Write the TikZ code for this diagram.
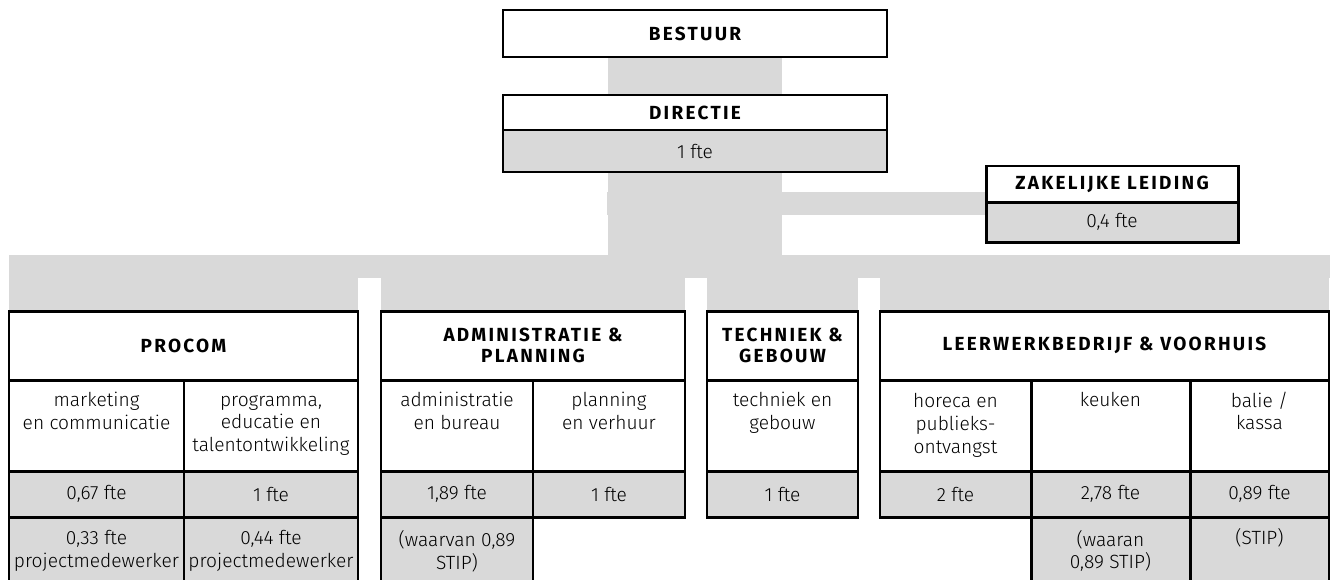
\documentclass[tikz,border=0pt]{standalone}
\usepackage{fontspec}
\usetikzlibrary{calc,backgrounds}
\setmainfont{Fira Sans}[UprightFont=* Light]
\newfontfamily\headfont[LetterSpace=12]{Fira Sans}
\definecolor{bandgrey}{HTML}{D9D9D9}

\begin{document}
\begin{tikzpicture}[x=0.02cm,y=-0.02cm,
    box/.style 2 args={draw,line width=1.7pt,inner sep=0pt,outer sep=0pt,anchor=north west,
      align=center,minimum width=#1*0.02cm,minimum height=#2*0.02cm,
      font=\fontsize{10.9}{12.9}\selectfont},
    hd/.style 2 args={box={#1}{#2},fill=white,font=\fontsize{10.8}{12}\headfont\bfseries},
    sub/.style={box={#1}{91},fill=white},
    fte/.style={box={#1}{46},fill=bandgrey},
    extra/.style={box={#1}{68},fill=bandgrey},
    link/.style={fill=bandgrey}]
  \useasboundingbox (0,0) rectangle (1330,579);
  \clip (0,0) rectangle (1330,579);

  \node[hd={384}{47}] (bestuur) at (503,10) {BESTUUR};
  \node[hd={384}{35}] (directie) at (503,95) {DIRECTIE};
  \node[fte=384,minimum height=42*0.02cm] (dirfte) at (503,130) {1 fte};
  \node[hd={252}{36}] (zakelijk) at (986,166) {ZAKELIJKE LEIDING};
  \node[fte=252,minimum height=40*0.02cm] (zakfte) at (986,202) {0,4 fte};

  \node[hd={349}{69}] (procom) at (9,311) {PROCOM};
  \node[hd={304}{69}] (adm) at (381,311) {ADMINISTRATIE \&\\PLANNING};
  \node[hd={151}{69}] (tech) at (707,311) {TECHNIEK \&\\GEBOUW};
  \node[hd={449}{69}] (leer) at (880,311) {LEERWERKBEDRIJF \& VOORHUIS};

  \node[sub=175] (marketing) at (9,380) {marketing\\en communicatie\\\strut};
  \node[sub=174] (programma) at (184,380) {programma,\\educatie en\\talentontwikkeling};
  \node[sub=152] (administratie) at (381,380) {administratie\\en bureau\\\strut};
  \node[sub=152] (planning) at (533,380) {planning\\en verhuur\\\strut};
  \node[sub=151] (techniek) at (707,380) {techniek en\\gebouw\\\strut};
  \node[sub=151] (horeca) at (880,380) {horeca en\\publieks-\\ontvangst};
  \node[sub=159] (keuken) at (1031,380) {keuken\\\strut\\\strut};
  \node[sub=139] (balie) at (1190,380) {balie /\\kassa\\\strut};

  \node[fte=175] (marketingfte) at (9,471) {0,67 fte};
  \node[fte=174] (programmafte) at (184,471) {1 fte};
  \node[fte=152] (administratiefte) at (381,471) {1,89 fte};
  \node[fte=152] (planningfte) at (533,471) {1 fte};
  \node[fte=151] (techniekfte) at (707,471) {1 fte};
  \node[fte=151] (horecafte) at (880,471) {2 fte};
  \node[fte=159] (keukenfte) at (1031,471) {2,78 fte};
  \node[fte=139] (baliefte) at (1190,471) {0,89 fte};

  \node[extra=175] (marketingpm) at (9,517) {0,33 fte\\projectmedewerker};
  \node[extra=174] (programmapm) at (184,517) {0,44 fte\\projectmedewerker};
  \node[extra=152] (administratiestip) at (381,517) {(waarvan 0,89\\STIP)};
  \node[extra=159] (keukenstip) at (1031,517) {(waaran\\0,89 STIP)};
  \node[extra=139] (baliestip) at (1190,517) {(STIP)\\\strut};

  \begin{scope}[on background layer]
    \fill[link] ($(bestuur.south)+(-87,0)$) rectangle ($(directie.north)+(87,0)$);
    \fill[link] ($(dirfte.south)+(-87,0)$) rectangle ($(dirfte.south |- procom.north)+(87,-55)$);
    \fill[link] ($(dirfte.south)+(-88,20)$) rectangle ($(zakfte.north west)+(0,13)$);
    \fill[link] ($(procom.north west)+(0,-56)$) rectangle ($(leer.north east)+(1,-33)$);
    \foreach \g in {procom,adm,tech,leer}
      \fill[link] ($(\g.north west)+(0,-34)$) rectangle (\g.north east);
  \end{scope}
\end{tikzpicture}
\end{document}
